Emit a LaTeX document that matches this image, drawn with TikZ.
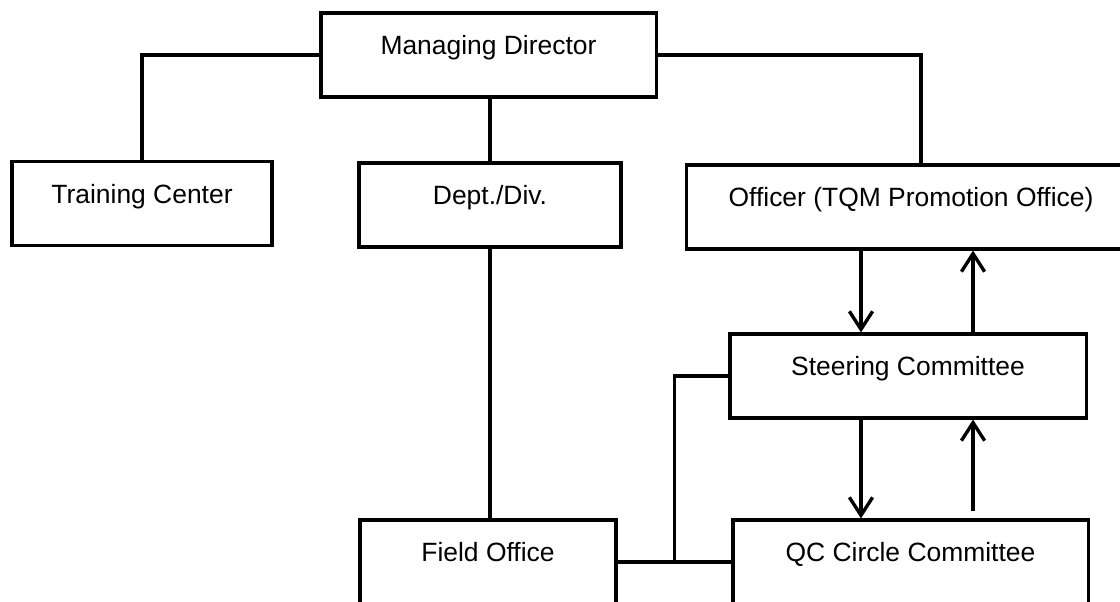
\documentclass[tikz,border=0pt]{standalone}
\usepackage{fontspec}
\setmainfont{Liberation Sans}
\usetikzlibrary{arrows.meta}

\begin{document}
\begin{tikzpicture}[x=0.025cm,y=-0.025cm,box/.style={draw,line width=2.2pt,minimum height=2.1cm,inner sep=0pt,text height=0.48cm,text depth=0.48cm,font=\fontsize{18.8}{22}\selectfont},link/.style={line width=2.4pt},flow/.style={line width=2.4pt,-{Straight Barb[length=0.45cm,width=0.58cm]}}]
    \useasboundingbox (0,0) rectangle (1120,602);
    \fill[white] (0,0) rectangle (1120,602);
    \clip (0,0) rectangle (1120,602);
    \node[box,minimum width=8.375cm] (md) at (488.5,55) {Managing Director};
    \node[box,minimum width=6.5cm] (tc) at (142,203.5) {Training Center};
    \node[box,minimum width=6.55cm] (dept) at (490,205) {Dept./Div.};
    \node[box,minimum width=11.2cm] (off) at (911,207) {Officer (TQM Promotion Office)};
    \node[box,minimum width=8.9cm] (st) at (908,376) {Steering Committee};
    \node[box,minimum width=8.875cm] (qc) at (910.5,562) {QC Circle Committee};
    \node[box,minimum width=6.4cm] (field) at (488,562) {Field Office};
    \draw[link] (md.west) -| (tc.north);
    \draw[link] (md.south -| dept.north) -- (dept.north);
    \draw[link] (md.east) -| ([xshift=0.25cm]off.north);
    \draw[link] (dept.south) -- (dept.south |- field.north);
    \draw[flow] ([xshift=-1.175cm]st.north |- off.south) -- ([xshift=-1.175cm]st.north);
    \draw[flow] ([xshift=1.625cm]st.north) -- ([xshift=1.625cm]st.north |- off.south);
    \draw[flow] ([xshift=-1.175cm]st.south) -- ([xshift=-1.175cm]st.south |- qc.north);
    \draw[flow,shorten <=0.18cm] ([xshift=1.625cm]st.south |- qc.north) -- ([xshift=1.625cm]st.south);
    \path (field.east) -- (qc.west) coordinate[pos=0.5] (jn);
    \draw[link] (field.east) -- (qc.west);
    \draw[link] (st.west) -| (jn);
\end{tikzpicture}
\end{document}
